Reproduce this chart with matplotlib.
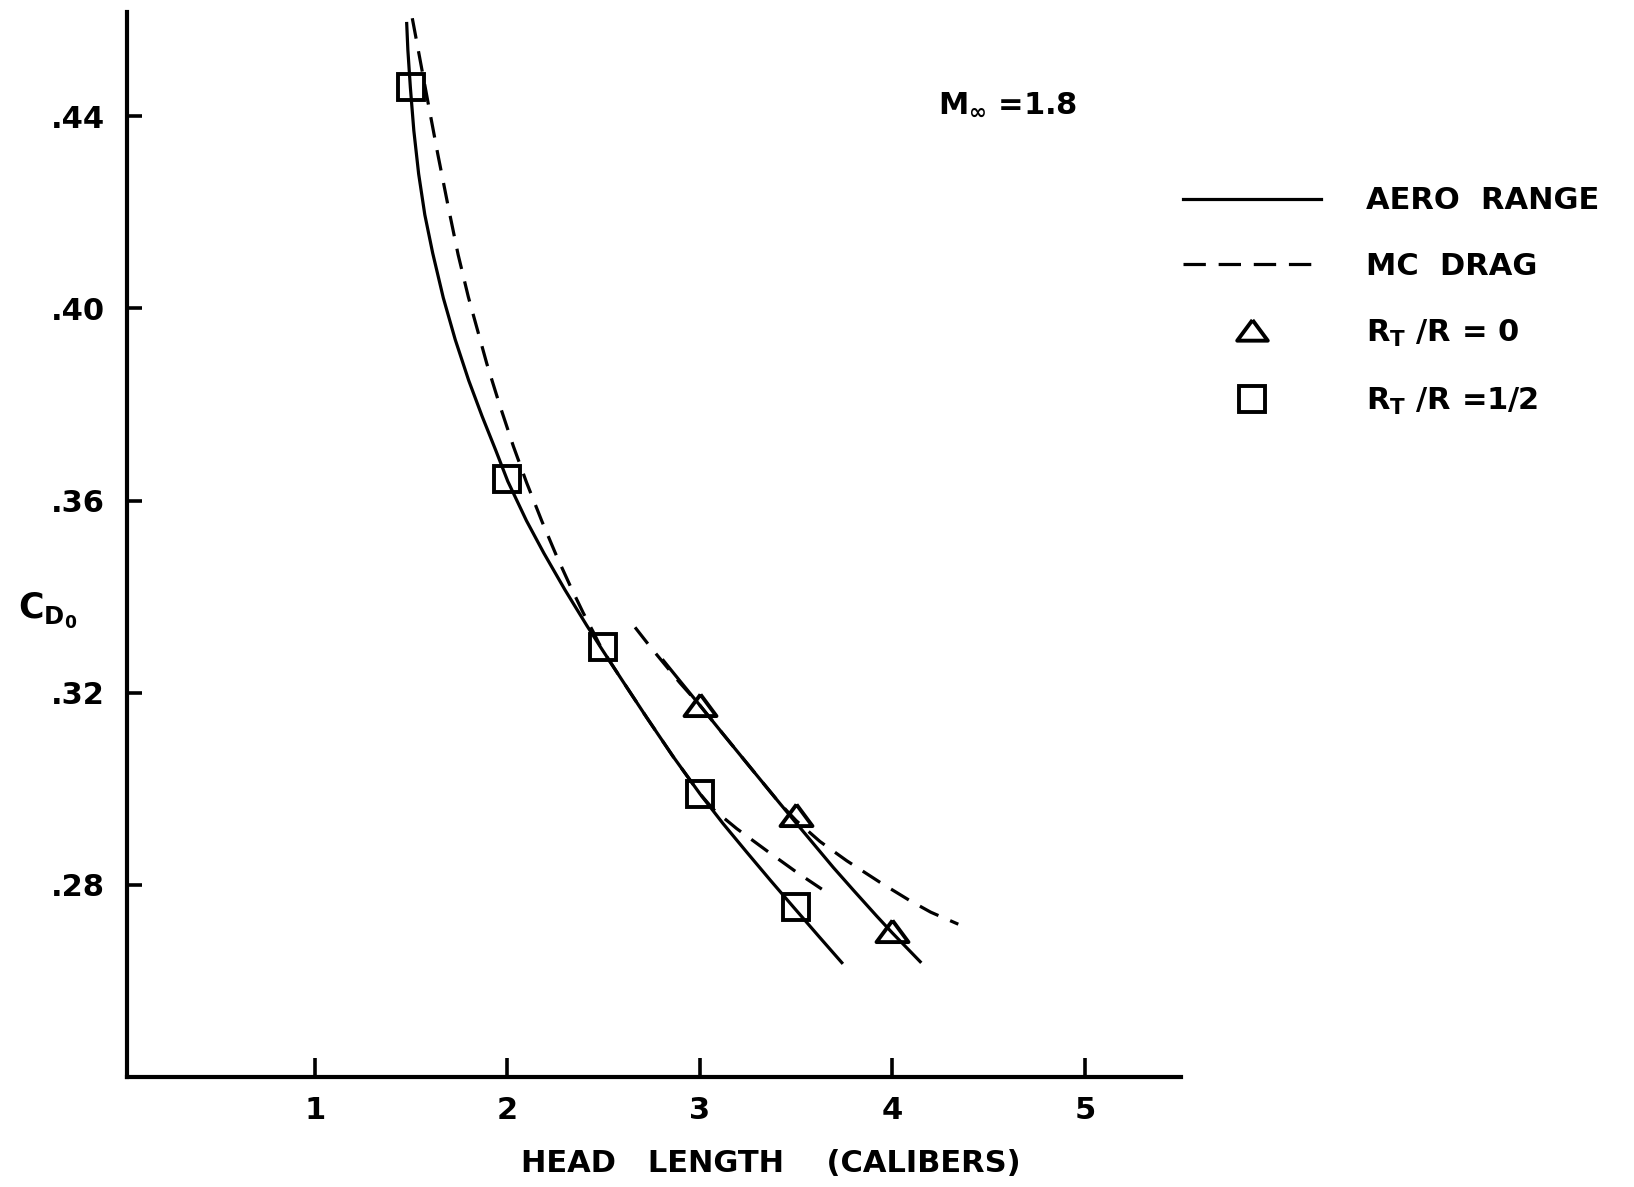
import matplotlib
matplotlib.use("Agg")
import matplotlib.pyplot as plt
from matplotlib.lines import Line2D
from matplotlib.legend_handler import HandlerLine2D

plt.rcParams['font.family'] = ['DejaVu Sans']
plt.rcParams['font.weight'] = 'bold'
plt.rcParams['axes.labelweight'] = 'bold'
plt.rcParams['mathtext.fontset'] = 'custom'
plt.rcParams['mathtext.rm'] = 'DejaVu Sans:bold'
plt.rcParams['mathtext.it'] = 'DejaVu Sans:bold'
plt.rcParams['mathtext.bf'] = 'DejaVu Sans:bold'
plt.rcParams['mathtext.sf'] = 'DejaVu Sans:bold'
plt.rcParams['mathtext.default'] = 'rm'

# ---- data ----
# AERO RANGE curve, R_T/R = 1/2
aero_half_x = [1.478, 1.484, 1.497, 1.515, 1.540, 1.572, 1.613, 1.668, 1.730, 1.800, 1.870, 1.940,
               2.003, 2.100, 2.191, 2.300, 2.413, 2.491, 2.600, 2.725, 2.860, 3.002, 3.120, 3.244,
               3.370, 3.486, 3.620, 3.738]
aero_half_y = [0.4593, 0.4538, 0.4460, 0.4370, 0.4280, 0.4195, 0.4115, 0.4022, 0.3935, 0.3850, 0.3775, 0.3705,
               0.3640, 0.3558, 0.3490, 0.3414, 0.3340, 0.3291, 0.3224, 0.3148, 0.3068, 0.2989, 0.2928, 0.2868,
               0.2808, 0.2754, 0.2692, 0.2638]
# MC DRAG curve, R_T/R = 1/2
mc_half_x = [1.507, 1.530, 1.550, 1.590, 1.640, 1.694, 1.745, 1.798, 1.894, 1.960, 2.032, 2.101,
             2.180, 2.257, 2.330, 2.395, 2.450, 2.491, 2.600, 2.725, 2.860, 3.002, 3.071, 3.192,
             3.348, 3.504, 3.634]
mc_half_y = [0.4604, 0.4555, 0.4512, 0.4426, 0.4320, 0.4211, 0.4112, 0.4024, 0.3885, 0.3800, 0.3713, 0.3637,
             0.3557, 0.3484, 0.3420, 0.3366, 0.3324, 0.3291, 0.3224, 0.3148, 0.3068, 0.2989, 0.2957, 0.2917,
             0.2871, 0.2826, 0.2791]
# AERO RANGE curve, R_T/R = 0
aero_zero_x = [2.811, 2.900, 3.000, 3.123, 3.231, 3.331, 3.415, 3.500, 3.600, 3.694, 3.800, 3.919, 4.000, 4.145]
aero_zero_y = [0.3267, 0.3223, 0.3174, 0.3113, 0.3060, 0.3011, 0.2970, 0.2929, 0.2881, 0.2836, 0.2788, 0.2735, 0.2700, 0.2640]
# MC DRAG curve, R_T/R = 0
mc_zero_x = [2.664, 2.742, 2.820, 2.898, 3.000, 3.123, 3.231, 3.331, 3.415, 3.500, 3.625, 3.764, 3.937, 4.092, 4.200, 4.343]
mc_zero_y = [0.3336, 0.3296, 0.3258, 0.3220, 0.3174, 0.3113, 0.3060, 0.3011, 0.2970, 0.2934, 0.2890, 0.2850, 0.2805, 0.2767, 0.2743, 0.2718]
# data points
tri_x = [3.0, 3.5, 4.0]
tri_y = [0.3173, 0.2944, 0.2701]
sq_x = [1.5, 2.0, 2.5, 3.0, 3.5]
sq_y = [0.4460, 0.3644, 0.3296, 0.2989, 0.2753]

xticks = [1, 2, 3, 4, 5]
xtick_labels = ['1', '2', '3', '4', '5']
yticks = [0.28, 0.32, 0.36, 0.40, 0.44]
ytick_labels = ['.28', '.32', '.36', '.40', '.44']

FS = 22
LW = 2.3
DASH = (0, (6.5, 4))
MEW = 2.8
TRI_MS = 23
SQ_MS = 19
tri_marker = [(0, 0.75), (-1, -0.6), (1, -0.6), (0, 0.75)]


class ShiftedMarkerHandler(HandlerLine2D):
    def get_xdata(self, legend, xdescent, ydescent, width, height, fontsize):
        xdata, _ = super().get_xdata(legend, xdescent, ydescent, width, height, fontsize)
        return xdata, [-xdescent + 0.685 * width]


fig = plt.figure(figsize=(16.34, 11.87), dpi=100)
ax = fig.add_axes([0.0777, 0.0927, 0.6451, 0.8968])

line_kw = dict(color='black', lw=LW, solid_joinstyle='round', dash_joinstyle='round')
ax.plot(aero_half_x, aero_half_y, **line_kw)
ax.plot(mc_half_x, mc_half_y, linestyle=DASH, **line_kw)
ax.plot(aero_zero_x, aero_zero_y, **line_kw)
ax.plot(mc_zero_x, mc_zero_y, linestyle=DASH, **line_kw)

ax.plot(tri_x, tri_y, linestyle='none', marker=tri_marker, markersize=TRI_MS,
        markerfacecolor='none', markeredgecolor='black', markeredgewidth=MEW)
ax.plot(sq_x, sq_y, linestyle='none', marker='s', markersize=SQ_MS,
        markerfacecolor='none', markeredgecolor='black', markeredgewidth=MEW)

ax.set_xlim(0.025, 5.5)
ax.set_ylim(0.24, 0.4616)

for s in ['top', 'right']:
    ax.spines[s].set_visible(False)
for s in ['left', 'bottom']:
    ax.spines[s].set_linewidth(3.0)

ax.set_xticks(xticks)
ax.set_xticklabels(xtick_labels)
ax.set_yticks(yticks)
ax.set_yticklabels(ytick_labels)
ax.tick_params(axis='x', direction='in', length=14, width=2.6, pad=14, labelsize=FS)
ax.tick_params(axis='y', direction='in', length=11, width=2.6, pad=16, labelsize=FS)

ax.set_xlabel('HEAD   LENGTH    (CALIBERS)', fontsize=FS)
ax.xaxis.set_label_coords(0.611, -0.0817)
ax.xaxis.label.set_va('center')
ax.set_ylabel(r'C$_{\mathrm{D}_{\mathrm{0}}}$', fontsize=FS + 3, rotation=0)
ax.yaxis.set_label_coords(-0.075, 0.439)
ax.yaxis.label.set_va('center')
ax.yaxis.label.set_ha('center')

ax.text(4.24, 0.4425, r'M$_\infty$ =1.8', fontsize=FS, ha='left', va='center')

handles = [
    Line2D([], [], color='black', lw=LW),
    Line2D([], [], color='black', lw=LW, linestyle=(0, (7, 4))),
    Line2D([], [], linestyle='none', marker=tri_marker, markersize=TRI_MS - 1,
           markerfacecolor='none', markeredgecolor='black', markeredgewidth=MEW),
    Line2D([], [], linestyle='none', marker='s', markersize=SQ_MS,
           markerfacecolor='none', markeredgecolor='black', markeredgewidth=MEW),
]
labels = ['AERO  RANGE', 'MC  DRAG', r'R$_\mathrm{T}$ /R = 0', r'R$_\mathrm{T}$ /R =1/2']
fig.legend(handles, labels, loc='upper left', bbox_to_anchor=(0.724, 0.843),
           frameon=False, fontsize=FS, handlelength=4.5, handletextpad=1.5,
           labelspacing=1.2, borderpad=0, borderaxespad=0,
           handler_map={handles[2]: ShiftedMarkerHandler(), handles[3]: ShiftedMarkerHandler()})

fig.savefig('out.png', dpi=100, facecolor='white')
